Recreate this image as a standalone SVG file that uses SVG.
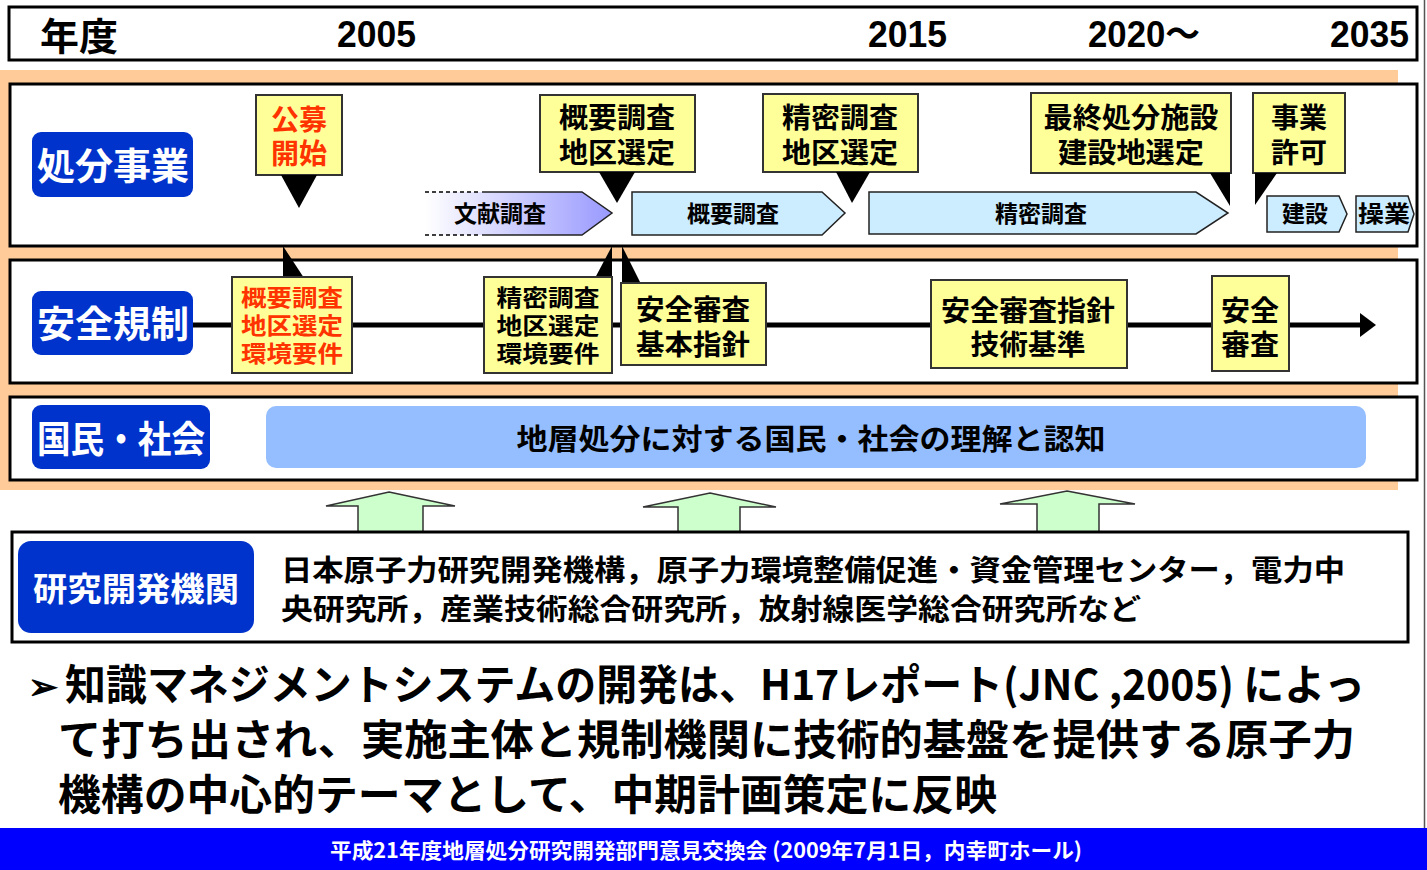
<svg xmlns="http://www.w3.org/2000/svg" width="1427" height="870" viewBox="0 0 1427 870">
<style>
text{font-family:"Noto Sans CJK JP","Noto Sans CJK SC",sans-serif;font-weight:bold;}
.num{font-family:"Liberation Sans","Noto Sans CJK JP",sans-serif;font-weight:bold;font-size:36px;fill:#000;}
.row{fill:#fff;stroke:#000;stroke-width:3;}
.lbl{fill:#0033CC;}
.lbltx{fill:#fff;font-size:37px;text-anchor:middle;}
.call{fill:#FFFF99;stroke:#333;stroke-width:2;}
.ct{font-size:28px;text-anchor:middle;fill:#000;}
.tri{fill:#000;}
.arr{fill:#CCECFF;stroke:#222;stroke-width:1.5;}
.at{font-size:23px;text-anchor:middle;fill:#000;}
.bt{font-size:23px;text-anchor:middle;fill:#000;}
.up{fill:#CCFFCC;stroke:#333;stroke-width:1.5;}
.big{font-size:42px;fill:#000;}
text.red{fill:#FF3300;}
</style>
<defs>
<linearGradient id="g1" x1="0" y1="0" x2="1" y2="0">
<stop offset="0" stop-color="#FFFFFF"/>
<stop offset="1" stop-color="#9999FF"/>
</linearGradient>
</defs>
<rect x="0" y="0" width="1427" height="870" fill="#fff"/>
<line x1="1424.5" y1="0" x2="1424.5" y2="828" stroke="#555" stroke-width="1.5"/>

<g id="header">
<rect x="9" y="7" width="1408" height="53" fill="#fff" stroke="#000" stroke-width="3"/>
<text x="40" y="50" font-size="38" textLength="78" lengthAdjust="spacingAndGlyphs">年度</text>
<text class="num" x="337" y="47" textLength="79" lengthAdjust="spacingAndGlyphs">2005</text>
<text class="num" x="868" y="47" textLength="79" lengthAdjust="spacingAndGlyphs">2015</text>
<text class="num" x="1088" y="47" textLength="112" lengthAdjust="spacingAndGlyphs">2020～</text>
<text class="num" x="1330" y="47" textLength="79" lengthAdjust="spacingAndGlyphs">2035</text>
</g>

<rect x="0" y="70" width="1398" height="420" fill="#FFCC99"/>

<g id="row1">
<rect class="row" x="10" y="84" width="1407" height="162"/>
<rect class="lbl" x="32" y="132" width="161" height="65" rx="9"/>
<text class="lbltx" x="113" y="180" textLength="152" lengthAdjust="spacingAndGlyphs">処分事業</text>
</g>

<g id="row2">
<rect class="row" x="10" y="260" width="1407" height="123"/>
<rect class="lbl" x="32" y="291" width="161" height="64" rx="9"/>
<text class="lbltx" x="113" y="338" textLength="152" lengthAdjust="spacingAndGlyphs">安全規制</text>
</g>

<g id="row3">
<rect class="row" x="10" y="397" width="1407" height="83"/>
<rect class="lbl" x="32" y="405" width="178" height="64" rx="9"/>
<text class="lbltx" x="121" y="453" textLength="168" lengthAdjust="spacingAndGlyphs">国民・社会</text>
</g>

<g id="connectors">
<line x1="193" y1="325" x2="1362" y2="325" stroke="#000" stroke-width="5"/>
<polygon class="tri" points="1360,313 1376,325 1360,337"/>
<polygon class="tri" points="283,246 283,278 304,278"/>
<polygon class="tri" points="612,246 612,278 595,278"/>
<polygon class="tri" points="622,246 622,284 641,284"/>
</g>

<g id="phase-bunken">
<polygon points="425,192 582,192 612,213 582,235 425,235" fill="url(#g1)"/>
<line x1="425" y1="192" x2="480" y2="192" stroke="#000" stroke-width="1.5" stroke-dasharray="4,3"/>
<line x1="425" y1="235" x2="480" y2="235" stroke="#000" stroke-width="1.5" stroke-dasharray="4,3"/>
<polyline points="482,192 582,192 612,213 582,235 482,235" fill="none" stroke="#222" stroke-width="1.5"/>
<text class="at" x="500" y="222">文献調査</text>
</g>
<g id="phase-gaiyo">
<polygon class="arr" points="632,192 822,192 845,213 822,235 632,235"/>
<text class="at" x="733" y="222">概要調査</text>
</g>
<g id="phase-seimitsu">
<polygon class="arr" points="869,192 1196,192 1228,213 1196,234 869,234"/>
<text class="at" x="1041" y="222">精密調査</text>
</g>
<g id="phase-kensetsu">
<polygon class="arr" points="1267,196 1339,196 1347,214 1339,232 1267,232"/>
<text class="at" x="1305" y="222">建設</text>
</g>
<g id="phase-sogyo">
<polygon class="arr" points="1356,196 1408,196 1414,214 1408,232 1356,232"/>
<text class="at" x="1384" y="222" textLength="52" lengthAdjust="spacingAndGlyphs">操業</text>
</g>

<g id="call-kobo">
<rect class="call" x="256" y="95" width="86" height="80"/>
<polygon class="tri" points="281,175 317,175 299,208"/>
<text class="ct red" x="299" y="130">公募</text>
<text class="ct red" x="299" y="164">開始</text>
</g>
<g id="call-gaiyo">
<rect class="call" x="540" y="95" width="155" height="77"/>
<polygon class="tri" points="599,172 635,172 617,203"/>
<text class="ct" x="617" y="128" textLength="116" lengthAdjust="spacingAndGlyphs">概要調査</text>
<text class="ct" x="617" y="163" textLength="116" lengthAdjust="spacingAndGlyphs">地区選定</text>
</g>
<g id="call-seimitsu">
<rect class="call" x="763" y="94" width="155" height="78"/>
<polygon class="tri" points="836,172 870,172 852,203"/>
<text class="ct" x="840" y="128" textLength="116" lengthAdjust="spacingAndGlyphs">精密調査</text>
<text class="ct" x="840" y="163" textLength="116" lengthAdjust="spacingAndGlyphs">地区選定</text>
</g>
<g id="call-saishu">
<rect class="call" x="1031" y="93" width="200" height="80"/>
<polygon class="tri" points="1210,173 1230,173 1230,206"/>
<text class="ct" x="1131" y="128" textLength="175" lengthAdjust="spacingAndGlyphs">最終処分施設</text>
<text class="ct" x="1131" y="163" textLength="146" lengthAdjust="spacingAndGlyphs">建設地選定</text>
</g>
<g id="call-kyoka">
<rect class="call" x="1253" y="93" width="92" height="80"/>
<polygon class="tri" points="1255,173 1277,173 1255,205"/>
<text class="ct" x="1299" y="128">事業</text>
<text class="ct" x="1299" y="163">許可</text>
</g>

<g id="reg-gaiyo">
<rect class="call" x="232" y="277" width="120" height="96"/>
<text class="bt red" x="292" y="306" textLength="102" lengthAdjust="spacingAndGlyphs">概要調査</text>
<text class="bt red" x="292" y="334" textLength="102" lengthAdjust="spacingAndGlyphs">地区選定</text>
<text class="bt red" x="292" y="362" textLength="102" lengthAdjust="spacingAndGlyphs">環境要件</text>
</g>
<g id="reg-seimitsu">
<rect class="call" x="484" y="277" width="128" height="96"/>
<text class="bt" x="548" y="306" textLength="103" lengthAdjust="spacingAndGlyphs">精密調査</text>
<text class="bt" x="548" y="334" textLength="103" lengthAdjust="spacingAndGlyphs">地区選定</text>
<text class="bt" x="548" y="362" textLength="103" lengthAdjust="spacingAndGlyphs">環境要件</text>
</g>
<g id="reg-kihon">
<rect class="call" x="621" y="283" width="145" height="82"/>
<text class="ct" x="693" y="320" textLength="114" lengthAdjust="spacingAndGlyphs">安全審査</text>
<text class="ct" x="693" y="355" textLength="114" lengthAdjust="spacingAndGlyphs">基本指針</text>
</g>
<g id="reg-shishin">
<rect class="call" x="931" y="280" width="196" height="88"/>
<text class="ct" x="1028" y="321" textLength="174" lengthAdjust="spacingAndGlyphs">安全審査指針</text>
<text class="ct" x="1028" y="355" textLength="115" lengthAdjust="spacingAndGlyphs">技術基準</text>
</g>
<g id="reg-shinsa">
<rect class="call" x="1212" y="276" width="77" height="95"/>
<text class="ct" x="1250" y="321" textLength="58" lengthAdjust="spacingAndGlyphs">安全</text>
<text class="ct" x="1250" y="355" textLength="58" lengthAdjust="spacingAndGlyphs">審査</text>
</g>

<g id="public-bar">
<rect x="266" y="406" width="1100" height="62" rx="10" fill="#94BEFF"/>
<text x="811" y="450" font-size="29" text-anchor="middle" textLength="589" lengthAdjust="spacingAndGlyphs">地層処分に対する国民・社会の理解と認知</text>
</g>

<g id="up-arrows">
<polygon class="up" points="389,492 455,506 423,506 423,532 358,532 358,506 326,506"/>
<polygon class="up" points="710,493 776,507 740,507 740,532 678,532 678,507 643,507"/>
<polygon class="up" points="1067,491 1135,504 1099,504 1099,532 1037,532 1037,504 1000,504"/>
</g>

<g id="research">
<rect class="row" x="12" y="532" width="1396" height="110"/>
<rect class="lbl" x="18" y="541" width="236" height="92" rx="13"/>
<text x="136" y="601" font-size="33" fill="#fff" text-anchor="middle" textLength="206" lengthAdjust="spacingAndGlyphs">研究開発機関</text>
<text x="281" y="581" font-size="29" textLength="1064" lengthAdjust="spacingAndGlyphs">日本原子力研究開発機構，原子力環境整備促進・資金管理センター，電力中</text>
<text x="281" y="620" font-size="29" textLength="860" lengthAdjust="spacingAndGlyphs">央研究所，産業技術総合研究所，放射線医学総合研究所など</text>
</g>

<g id="summary">
<text x="28" y="699" font-size="36" font-family="DejaVu Sans, sans-serif">➢</text>
<text class="big" x="65" y="700" textLength="1300" lengthAdjust="spacingAndGlyphs">知識マネジメントシステムの開発は、H17レポート(JNC ,2005) によっ</text>
<text class="big" x="58" y="755" textLength="1297" lengthAdjust="spacingAndGlyphs">て打ち出され、実施主体と規制機関に技術的基盤を提供する原子力</text>
<text class="big" x="58" y="810" textLength="939" lengthAdjust="spacingAndGlyphs">機構の中心的テーマとして、中期計画策定に反映</text>
</g>

<g id="footer">
<rect x="0" y="828" width="1427" height="42" fill="#0000FF"/>
<text x="330" y="858" font-size="21" fill="#fff" textLength="752" lengthAdjust="spacingAndGlyphs">平成21年度地層処分研究開発部門意見交換会 (2009年7月1日，内幸町ホール)</text>
</g>
</svg>
